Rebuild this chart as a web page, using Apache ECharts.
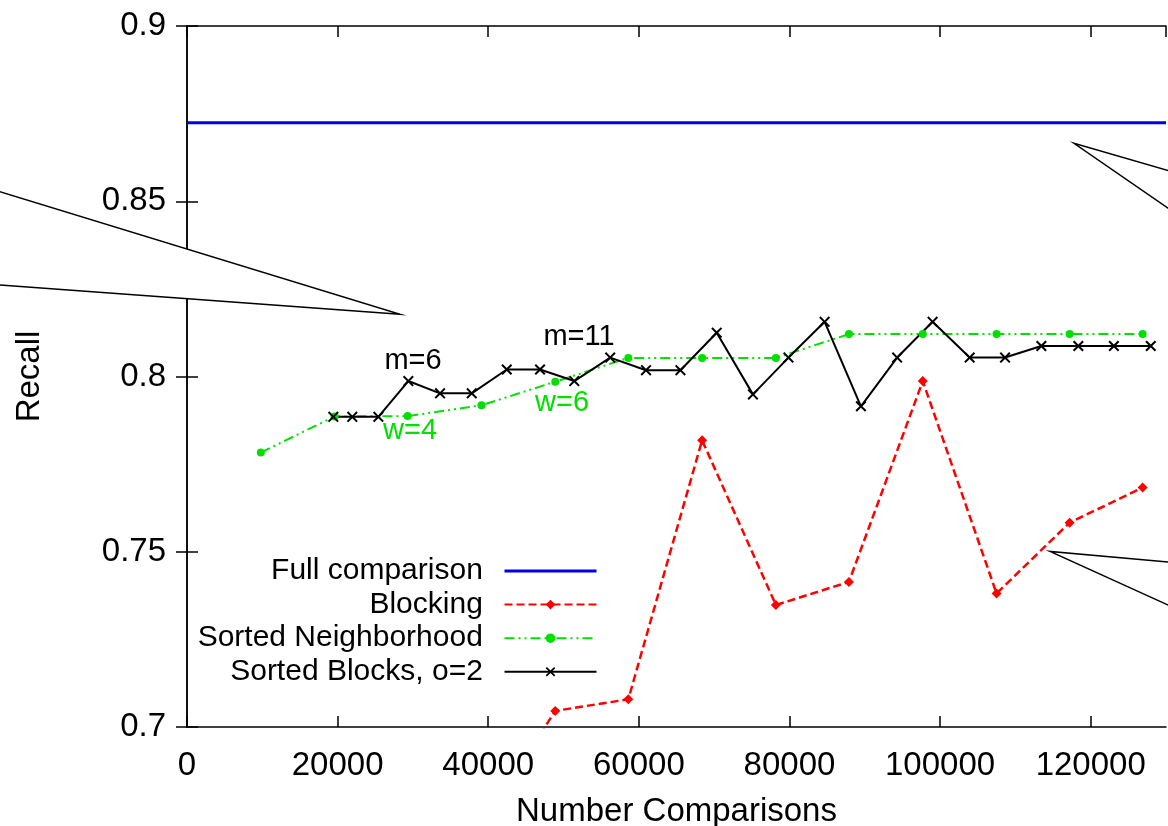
<!DOCTYPE html>
<html>
<head>
<meta charset="utf-8">
<title>Recall vs Number Comparisons</title>
<script src="https://cdn.jsdelivr.net/npm/echarts@6/dist/echarts.min.js"></script>
<style>
  html, body { margin: 0; padding: 0; background: #fff; }
  #chart { width: 1168px; height: 826px; }
</style>
</head>
<body>
<div id="chart"></div>
<script>
// data
const fullX = [0, 130000];
const fullY = [0.8724, 0.8724];

const blockX = [39100, 48900, 58600, 68400, 78200, 87900, 97700, 107500, 117200, 126900];
const blockY = [0.672, 0.7046, 0.7079, 0.7818, 0.7348, 0.7414, 0.7987, 0.7381, 0.7583, 0.7683];

const snX = [9800, 19600, 29300, 39100, 48900, 58600, 68400, 78200, 87900, 97700, 107500, 117200, 126900];
const snY = [0.7783, 0.7886, 0.7887, 0.7918, 0.7985, 0.8053, 0.8053, 0.8053, 0.8121, 0.8121, 0.8121, 0.8121, 0.8121];

const sbX = [19430, 21950, 25410, 29390, 33600, 37810, 42460, 46880, 51430, 56200, 60950, 65520, 70340,
  75150, 79870, 84670, 89490, 94300, 99010, 103930, 108630, 113450, 118360, 123080, 127980];
const sbY = [0.7885, 0.7885, 0.7885, 0.7987, 0.7952, 0.7952, 0.802, 0.802, 0.7987, 0.8054, 0.8018, 0.8018, 0.8125,
  0.7949, 0.8054, 0.8156, 0.7915, 0.8054, 0.8156, 0.8054, 0.8054, 0.8087, 0.8087, 0.8087, 0.8087];

const seriesNames = ["Full comparison", "Blocking", "Sorted Neighborhood", "Sorted Blocks, o=2"];

const FONT = "Liberation Sans";
const BLUE = "#0000e6";
const RED = "#ff0000";
const GREEN = "#00e000";

const zip = (xs, ys) => xs.map((x, i) => [x, ys[i]]);

const crossPath = "path://M0,1.3L1.3,0L5,3.7L8.7,0L10,1.3L6.3,5L10,8.7L8.7,10L5,6.3L1.3,10L0,8.7L3.7,5Z";

const myChart = echarts.init(document.getElementById("chart"));

const axisCommon = {
  axisLine: { lineStyle: { color: "#000", width: 1.5 } },
  axisTick: { inside: true, length: 11, lineStyle: { color: "#000", width: 1.5 } },
  splitLine: { show: false },
};

const callout = (pts) => ({
  type: "polygon",
  z: 100,
  shape: { points: pts },
  style: { fill: "#fff", stroke: "#000", lineWidth: 1.5 },
});

const note = (text, x, y, color) => ({
  type: "text",
  z: 100,
  x: x,
  y: y,
  style: {
    text: text,
    fill: color,
    font: "29px '" + FONT + "'",
    align: "center",
    verticalAlign: "middle",
  },
});

myChart.setOption({
  animation: false,
  backgroundColor: "#fff",
  textStyle: { fontFamily: FONT },
  grid: { left: 187, right: 2, top: 26, bottom: 99, outerBoundsMode: "none", containLabel: false },
  legend: {
    data: [
      { name: seriesNames[0], itemStyle: { opacity: 0 }, lineStyle: { width: 3 } },
      { name: seriesNames[1] },
      { name: seriesNames[2] },
      { name: seriesNames[3] },
    ],
    orient: "vertical",
    align: "right",
    right: 565,
    top: 551,
    itemWidth: 92,
    itemHeight: 12,
    itemGap: 3.6,
    formatter: (name) => name + "  ",
    textStyle: { fontSize: 30, color: "#000", fontFamily: FONT },
  },
  xAxis: [
    Object.assign({}, axisCommon, {
      type: "value",
      min: 0,
      max: 130000,
      interval: 20000,
      name: "Number Comparisons",
      nameLocation: "middle",
      nameGap: 68,
      nameTextStyle: { fontSize: 33, color: "#000", fontFamily: FONT },
      axisLabel: {
        fontSize: 33,
        color: "#000",
        margin: 22,
        showMaxLabel: false,
        formatter: (v) => String(v),
      },
    }),
    Object.assign({}, axisCommon, {
      type: "value",
      position: "top",
      min: 0,
      max: 130000,
      interval: 20000,
      axisLabel: { show: false },
    }),
  ],
  yAxis: [
    Object.assign({}, axisCommon, {
      type: "value",
      min: 0.7,
      max: 0.9,
      interval: 0.05,
      name: "Recall",
      nameLocation: "middle",
      nameGap: 141,
      nameTextStyle: { fontSize: 33, color: "#000", fontFamily: FONT },
      axisLabel: { fontSize: 33, color: "#000", margin: 21 },
    }),
    Object.assign({}, axisCommon, {
      type: "value",
      position: "right",
      min: 0.7,
      max: 0.9,
      interval: 0.05,
      axisLabel: { show: false },
    }),
  ],
  series: [
    {
      name: seriesNames[0],
      type: "line",
      data: zip(fullX, fullY),
      symbol: "none",
      lineStyle: { color: BLUE, width: 3 },
      itemStyle: { color: BLUE },
    },
    {
      name: seriesNames[1],
      type: "line",
      data: zip(blockX, blockY),
      symbol: "diamond",
      symbolSize: 10,
      lineStyle: { color: RED, width: 2.5, type: [8, 4] },
      itemStyle: { color: RED },
    },
    {
      name: seriesNames[2],
      type: "line",
      data: zip(snX, snY),
      symbol: "circle",
      symbolSize: 8,
      lineStyle: { color: GREEN, width: 2, type: [10, 4, 2, 4, 2, 4] },
      itemStyle: { color: GREEN },
    },
    {
      name: seriesNames[3],
      type: "line",
      data: zip(sbX, sbY),
      symbol: crossPath,
      symbolSize: 11,
      lineStyle: { color: "#000", width: 2 },
      itemStyle: { color: "#000" },
    },
  ],
  graphic: [
    callout([[-10, 188.6], [400, 314.3], [-10, 284.3]]),
    callout([[1180, 174], [1074, 143.3], [1180, 216.3]]),
    callout([[1180, 563], [1050, 551.5], [1180, 610.4]]),
    note("m=6", 413, 361, "#000"),
    note("m=11", 579, 337, "#000"),
    note("w=4", 410, 431, GREEN),
    note("w=6", 562, 403, GREEN),
  ],
});
</script>
</body>
</html>
